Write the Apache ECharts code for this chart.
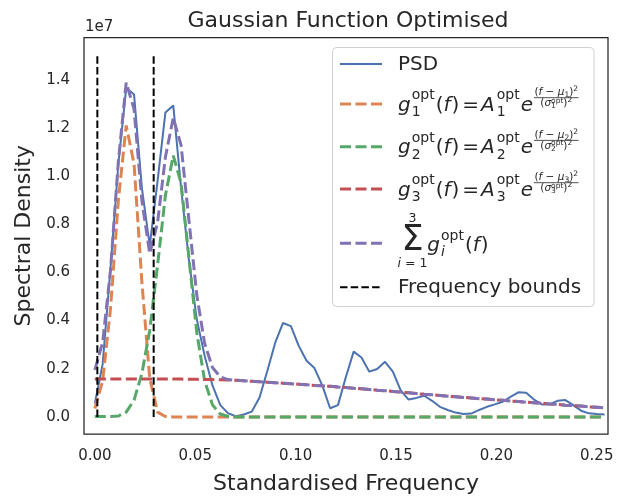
<!DOCTYPE html>
<html><head><meta charset="utf-8">
<script src="https://cdn.jsdelivr.net/npm/echarts@6/dist/echarts.min.js"></script>
<style>html,body{margin:0;padding:0;background:#fff}#c{width:624px;height:500px}</style>
</head><body><div id="c"></div>
<script>
// ---- data (spectral density in units of 1e7) ----
const freqStep = 1 / 256;
const psd = [
  0.056,0.22,0.62,1.05,1.366,1.338,0.95,0.711,0.98,1.264,
  1.293,0.95,0.65,0.405,0.254,0.131,0.049,0.015,0.003,0.010,
  0.022,0.081,0.192,0.308,0.390,0.377,0.295,0.233,0.203,0.131,
  0.036,0.049,0.165,0.271,0.247,0.188,0.199,0.229,0.188,0.110,
  0.072,0.079,0.088,0.067,0.042,0.029,0.018,0.012,0.014,0.029,
  0.042,0.052,0.063,0.083,0.102,0.100,0.072,0.052,0.053,0.067,
  0.070,0.049,0.026,0.015,0.012,0.010];
const gauss1 = [
  0.035,0.150,0.450,0.900,1.210,1.050,0.560,0.160,0.020,0.002,
  0,0,0,0,0,0,0,0,0,0, 0,0,0,0,0,0,0,0,0,0,
  0,0,0,0,0,0,0,0,0,0, 0,0,0,0,0,0,0,0,0,0,
  0,0,0,0,0,0,0,0,0,0, 0,0,0,0,0,0];
const gauss2 = [
  0.002,0.002,0.002,0.004,0.020,0.070,0.180,0.360,0.630,0.920,
  1.085,0.970,0.660,0.350,0.150,0.050,0.012,0.002,0,0,
  0,0,0,0,0,0,0,0,0,0, 0,0,0,0,0,0,0,0,0,0,
  0,0,0,0,0,0,0,0,0,0, 0,0,0,0,0,0,0,0,0,0,
  0,0,0,0,0,0];
const gauss3 = [
  0.158,0.158,0.158,0.158,0.158,0.158,0.158,0.158,0.157,0.157,
  0.157,0.157,0.156,0.156,0.155,0.155,0.154,0.153,0.152,0.150,
  0.148,0.146,0.144,0.142,0.140,0.138,0.136,0.134,0.131,0.129,
  0.127,0.124,0.122,0.119,0.117,0.114,0.111,0.109,0.106,0.103,
  0.100,0.097,0.094,0.092,0.089,0.086,0.084,0.081,0.079,0.076,
  0.074,0.071,0.069,0.066,0.064,0.061,0.059,0.057,0.054,0.052,
  0.049,0.047,0.045,0.042,0.040,0.038];
const gaussSum = [
  0.195,0.310,0.610,1.062,1.388,1.278,0.898,0.678,0.807,1.079,
  1.242,1.127,0.816,0.506,0.305,0.205,0.166,0.155,0.152,0.150,
  0.148,0.146,0.144,0.142,0.140,0.138,0.136,0.134,0.131,0.129,
  0.127,0.124,0.122,0.119,0.117,0.114,0.111,0.109,0.106,0.103,
  0.100,0.097,0.094,0.092,0.089,0.086,0.084,0.081,0.079,0.076,
  0.074,0.071,0.069,0.066,0.064,0.061,0.059,0.057,0.054,0.052,
  0.049,0.047,0.045,0.042,0.040,0.038];
const freqBounds = [0.00125, 0.0293];
const boundTop = 1.5;
const xTicks = [0, 0.05, 0.10, 0.15, 0.20, 0.25];
const yTicks = [0, 0.2, 0.4, 0.6, 0.8, 1.0, 1.2, 1.4];

// ---- chart ----
const FF = '"DejaVu Sans"';
const TXT = '#262626';
const C = {blue:'#4C72B0', orange:'#DD8452', green:'#55A868', red:'#C44E52', purple:'#8172B3', black:'#000000'};
const pairs = arr => arr.map((v, k) => [k * freqStep, v]);
const DASH = [11, 4.5];
const BDASH = [7.5, 3.2];

function lineSeries(name, data, color, width, dash) {
  return {name, type:'line', data, symbol:'none', showSymbol:false, silent:true, clip:true,
    lineStyle:{color, width, type: dash || 'solid'}, itemStyle:{color}};
}

const series = [
  lineSeries('PSD', pairs(psd), C.blue, 2),
  lineSeries('g1', pairs(gauss1), C.orange, 3, DASH),
  lineSeries('g2', pairs(gauss2), C.green, 3, DASH),
  lineSeries('g3', pairs(gauss3), C.red, 3, DASH),
  lineSeries('sum', pairs(gaussSum), C.purple, 3, DASH),
  lineSeries('b1', [[freqBounds[0], 0], [freqBounds[0], boundTop]], C.black, 2, BDASH),
  lineSeries('b2', [[freqBounds[1], 0], [freqBounds[1], boundTop]], C.black, 2, BDASH)
];

// ---- legend built with graphic elements (math text) ----
const mctx = document.createElement('canvas').getContext('2d');
function fstr(size, it) { return (it ? 'italic ' : '') + size + 'px ' + FF; }
function tw(t, size, it) { mctx.font = fstr(size, it); return mctx.measureText(t).width; }
const G = [];
function txt(t, x, base, size, it, align) {
  G.push({type:'text', silent:true, z:101, style:{text:t, x:x, y:base - 0.36 * size, font:fstr(size, it), fill:TXT,
    textAlign: align || 'left', textVerticalAlign:'middle'}});
  return tw(t, size, it);
}
function hline(x1, x2, y, color, width, dash) {
  G.push({type:'line', silent:true, z:101, shape:{x1, y1:y, x2, y2:y}, style:{stroke:color, lineWidth:width, lineDash:dash || null}});
}
// box
G.push({type:'rect', silent:true, z:100, shape:{x:332.5, y:47.5, width:261.5, height:259, r:4},
  style:{fill:'rgba(255,255,255,0.8)', stroke:'#d0d0d0', lineWidth:1}});
const HX1 = 340, HX2 = 382, TX = 398;
const rowY = [64, 104, 146.7, 189, 243.3, 287.3];
hline(HX1, HX2, rowY[0], C.blue, 2);
hline(HX1, HX2, rowY[1], C.orange, 3, DASH);
hline(HX1, HX2, rowY[2], C.green, 3, DASH);
hline(HX1, HX2, rowY[3], C.red, 3, DASH);
hline(HX1, HX2, rowY[4], C.purple, 3, DASH);
hline(HX1, HX2, rowY[5], C.black, 2, BDASH);
txt('PSD', TX, rowY[0] + 7.5, 20, false);
txt('Frequency bounds', TX, rowY[5] + 7.5, 20, false);

function gaussRow(n, cy) {
  const B = cy + 8.5;
  let x = TX;
  x += txt('g', x, B, 20, true);
  let a = txt('opt', x + 1, B - 12, 14, false), b = txt(n, x + 1, B + 5, 14, false);
  x += Math.max(a, b) + 2;
  x += txt('(', x, B, 20, false);
  x += txt('f', x, B, 20, true) + 1;
  x += txt(')', x, B, 20, false);
  x += 3; x += txt('=', x, B, 20, false); x += 2;
  x += txt('A', x, B, 20, true);
  a = txt('opt', x + 2, B - 12, 14, false); b = txt(n, x + 2, B + 5, 14, false);
  x += Math.max(a, b) + 3;
  x += txt('e', x, B, 20, true) + 1;
  // fraction
  const fs = 10.5, ss = 7.5;
  const nb = B - 16.5, db = B - 5.5;
  const numW = tw('(', fs) + tw('f', fs, true) + tw(' \u2212 ', fs) + tw('\u03bc', fs, true) + tw(n, ss) + tw(')', fs) + tw('2', ss);
  const denW = tw('(', fs) + tw('\u03c3', fs, true) + Math.max(tw('opt', ss), tw(n, ss)) + tw(')', fs) + tw('2', ss);
  const W = Math.max(numW, denW) + 1;
  let nx = x + (W - numW) / 2;
  nx += txt('(', nx, nb, fs); nx += txt('f', nx, nb, fs, true); nx += txt(' \u2212 ', nx, nb, fs);
  nx += txt('\u03bc', nx, nb, fs, true); nx += txt(n, nx, nb + 2, ss); nx += txt(')', nx, nb, fs); txt('2', nx, nb - 4, ss);
  let dx = x + (W - denW) / 2;
  dx += txt('(', dx, db, fs); dx += txt('\u03c3', dx, db, fs, true);
  a = txt('opt', dx, db - 3.5, ss); b = txt(n, dx, db + 2, ss); dx += Math.max(a, b);
  dx += txt(')', dx, db, fs); txt('2', dx, db - 4, ss);
  hline(x, x + W, B - 14.8, TXT, 0.8);
}
gaussRow('1', rowY[1]);
gaussRow('2', rowY[2]);
gaussRow('3', rowY[3]);
// sum row
(function () {
  const B = 253.3;
  txt('\u03a3', 412.5, B, 35, false, 'center');
  txt('3', 412.5, 223.5, 12.5, false, 'center');
  const iw = tw('i', 12.5, true), rw = tw(' = 1', 12.5);
  const sx = 412.5 - (iw + rw) / 2;
  txt('i', sx, 268.3, 12.5, true); txt(' = 1', sx + iw, 268.3, 12.5);
  let x = 427.3;
  x += txt('g', x, B, 20, true);
  const a = txt('opt', x + 1, B - 12, 14, false), b = txt('i', x + 1, B + 4, 14, true);
  x += Math.max(a, b) + 2;
  x += txt('(', x, B, 20); x += txt('f', x, B, 20, true) + 1; txt(')', x, B, 20);
})();
// offset text
G.push({type:'text', silent:true, style:{text:'1e7', x:85, y:27.5, font:fstr(15), fill:TXT, textAlign:'left', textVerticalAlign:'middle'}});

const chart = echarts.init(document.getElementById('c'), null, {renderer:'canvas', width:624, height:500});
chart.setOption({
  animation:false,
  backgroundColor:'#ffffff',
  title:{text:'Gaussian Function Optimised', left:343, top:5, textAlign:'center',
    textStyle:{fontSize:22, fontWeight:'normal', color:TXT, fontFamily:FF}},
  grid:{left:84, top:37.5, width:524, height:402, show:true, borderColor:TXT, borderWidth:1.25, backgroundColor:'transparent'},
  xAxis:{type:'value', min:-0.0054, max:0.2556,
    axisLine:{show:false}, axisTick:{show:false}, splitLine:{show:false},
    axisLabel:{customValues:xTicks, formatter:v => v.toFixed(2), fontSize:15, color:TXT, fontFamily:FF, margin:15},
    name:'Standardised Frequency', nameLocation:'middle', nameGap:39,
    nameTextStyle:{fontSize:22, color:TXT, fontFamily:FF}},
  yAxis:{type:'value', min:-0.0708, max:1.575,
    axisLine:{show:false}, axisTick:{show:false}, splitLine:{show:false},
    axisLabel:{customValues:yTicks, formatter:v => v.toFixed(1), fontSize:15, color:TXT, fontFamily:FF, margin:14},
    name:'Spectral Density', nameLocation:'middle', nameGap:44,
    nameTextStyle:{fontSize:22, color:TXT, fontFamily:FF}},
  series:series,
  graphic:G
});
</script>
</body></html>
